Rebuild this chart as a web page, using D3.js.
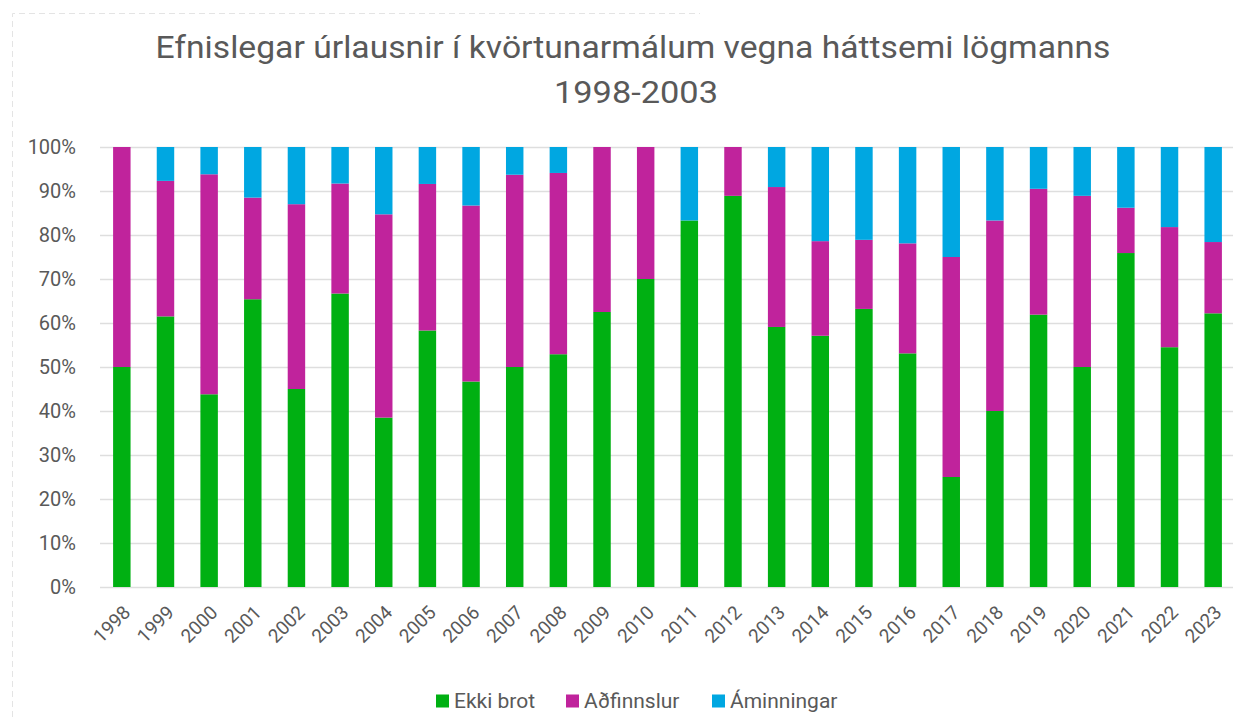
<!DOCTYPE html>
<html>
<head>
<meta charset="utf-8">
<script src="https://cdn.jsdelivr.net/npm/d3@7"></script>
<style>
  body { margin: 0; background: #fff; }
  text { font-family: "Liberation Sans Narrow", "Roboto", "Liberation Sans", sans-serif; fill: #595959; }
</style>
</head>
<body>
<div id="chart"></div>
<script>
// data (percent of each year)
var years = ["1998","1999","2000","2001","2002","2003","2004","2005","2006","2007","2008","2009","2010",
             "2011","2012","2013","2014","2015","2016","2017","2018","2019","2020","2021","2022","2023"];
var ekkiBrot   = [50, 61.5, 43.8, 65.4, 45, 66.7, 38.5, 58.3, 46.7, 50, 52.9, 62.5, 70,
                  83.3, 88.9, 59.1, 57.1, 63.2, 53.1, 25, 40, 61.9, 50, 75.9, 54.5, 62.2];
var adfinnslur = [50, 30.8, 50, 23.1, 42, 25, 46.2, 33.3, 40, 43.7, 41.2, 37.5, 30,
                  0, 11.1, 31.8, 21.5, 15.7, 25, 50, 43.3, 28.6, 38.9, 10.3, 27.3, 16.2];
var aminningar = [0, 7.7, 6.2, 11.5, 13, 8.3, 15.3, 8.4, 13.3, 6.3, 5.9, 0, 0,
                  16.7, 0, 9.1, 21.4, 21.1, 21.9, 25, 16.7, 9.5, 11.1, 13.8, 18.2, 21.6];
var seriesNames = ["Ekki brot", "Aðfinnslur", "Áminningar"];
var colors = ["#00b012", "#c0239c", "#00a7e1"];
var yTicks = [0, 10, 20, 30, 40, 50, 60, 70, 80, 90, 100];

var W = 1248, H = 717;
var margin = {top: 147, right: 13, bottom: 130, left: 100};

var svg = d3.select("#chart").append("svg")
    .attr("width", W)
    .attr("height", H);

// faint screenshot border
svg.append("path")
   .attr("d", "M12.5,717 V13.5 H700")
   .attr("fill", "none")
   .attr("stroke", "#e4e4e4")
   .attr("stroke-dasharray", "6,4");

//rows for the stack
var rows = years.map(function(y, i){
  return {year: y, "Ekki brot": ekkiBrot[i], "Aðfinnslur": adfinnslur[i], "Áminningar": aminningar[i]};
});
var stack = d3.stack().keys(seriesNames).offset(d3.stackOffsetExpand)(rows);

var xScale = d3.scaleBand()
    .domain(years)
    .range([margin.left, W - margin.right])
    .paddingInner(0.6)
    .paddingOuter(0.3);

var yScale = d3.scaleLinear()
    .domain([0, 100])
    .range([H - margin.bottom, margin.top]);

//gridlines
svg.append("g")
   .selectAll("line")
   .data(yTicks)
   .enter()
   .append("line")
   .attr("x1", margin.left)
   .attr("x2", W - margin.right - 2)
   .attr("y1", function(d){ return yScale(d) + 0.5; })
   .attr("y2", function(d){ return yScale(d) + 0.5; })
   .attr("stroke", "#dedede")
   .attr("stroke-width", 1.5);

// y axis labels
var yAxis = svg.append("g")
   .attr("transform", "translate(" + (margin.left - 24) + ",0)")
   .call(d3.axisLeft(yScale).tickValues(yTicks).tickSize(0).tickFormat(function(d){ return d + "%"; }));
yAxis.select(".domain").remove();
yAxis.selectAll("text")
   .attr("font-size", "20px")
   .attr("font-family", "'Liberation Sans', sans-serif")
   .attr("x", 0)
   .style("fill", "#595959");

//bars
var series = svg.selectAll("g.layer")
    .data(stack)
    .enter()
    .append("g")
    .attr("class", "layer")
    .style("fill", function(d, i){ return colors[i]; });

series.selectAll("rect")
    .data(function(d){ return d; })
    .enter()
    .append("rect")
    .attr("x", function(d){ return xScale(d.data.year); })
    .attr("width", xScale.bandwidth())
    .attr("y", function(d){ return yScale(d[1] * 100); })
    .attr("height", function(d){ return yScale(d[0] * 100) - yScale(d[1] * 100); });

// x labels rotated
var xAxis = svg.append("g")
   .attr("transform", "translate(0," + (H - margin.bottom + 14) + ")")
   .call(d3.axisBottom(xScale).tickSize(0));
xAxis.select(".domain").remove();
xAxis.selectAll("text")
   .attr("font-size", "19px")
   .attr("font-family", "'Liberation Sans', sans-serif")
   .style("fill", "#595959")
   .attr("text-anchor", "end")
   .attr("dy", "0.35em")
   .attr("y", 0)
   .attr("transform", "translate(5,8) rotate(-45)");

// title
svg.append("text")
   .attr("x", 633).attr("y", 58)
   .attr("text-anchor", "middle")
   .attr("font-size", "31px")
   .attr("textLength", 955)
   .attr("lengthAdjust", "spacingAndGlyphs")
   .text("Efnislegar úrlausnir í kvörtunarmálum vegna háttsemi lögmanns");
svg.append("text")
   .attr("x", 636).attr("y", 103)
   .attr("text-anchor", "middle")
   .attr("font-size", "31px")
   .attr("textLength", 164)
   .attr("lengthAdjust", "spacingAndGlyphs")
   .text("1998-2003");

//legend
var legendX = [436, 566, 712];
var legend = svg.selectAll("g.legend")
   .data(seriesNames)
   .enter()
   .append("g")
   .attr("class", "legend")
   .attr("transform", function(d, i){ return "translate(" + legendX[i] + ",701)"; });
legend.append("rect")
   .attr("x", 0).attr("y", -6.5)
   .attr("width", 13).attr("height", 13)
   .style("fill", function(d, i){ return colors[i]; });
legend.append("text")
   .attr("x", 18).attr("y", 0)
   .attr("dy", "0.35em")
   .attr("font-size", "21px")
   .text(function(d){ return d; });
</script>
</body>
</html>
